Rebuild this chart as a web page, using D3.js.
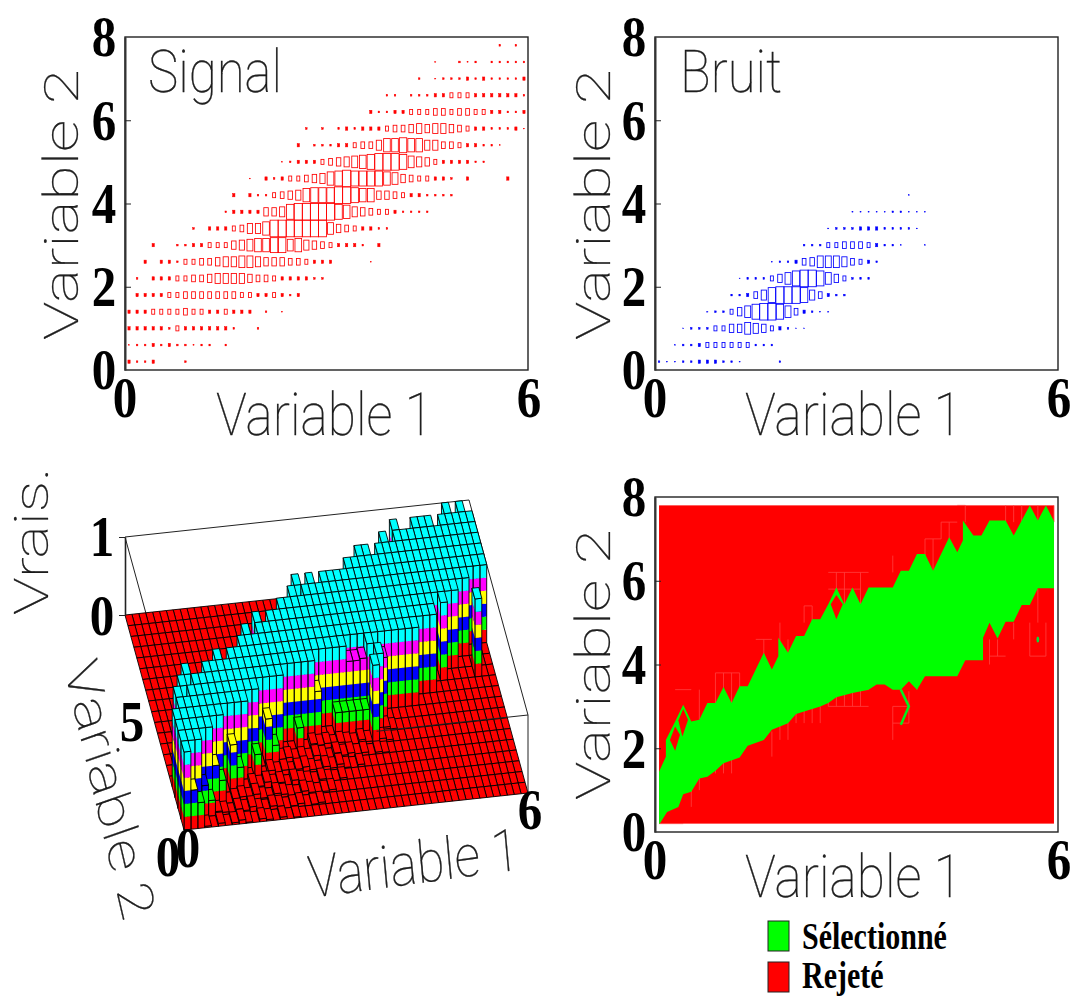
<!DOCTYPE html>
<html><head><meta charset="utf-8">
<script src="https://cdn.jsdelivr.net/npm/d3@7"></script>
<style>html,body{margin:0;padding:0;background:#fff}svg{display:block}</style></head>
<body><svg id="c" width="1070" height="996"></svg>
<script>
// ---------- Data: box sizes (0-10) per row, row index = Variable 2 bin, first column = signalStart[r]
const varTwoTicks = [0,2,4,6,8];
const varOneTicks = [0,6];
const signalStart = [0,0,0,0,1,1,2,3,8,12,13,15,19,21,22,30,32,36,38,46];
const signalRows = [
 [2,1,1,2,0,0,0,1],
 [.5,1,1,2,1,2,1,1,.5,1,1,0,1],
 [2,2,2,2,2,1,3,2,2,2,2,2,2,1,0,0,1],
 [2,2,2,3,3,3,3,4,3,3,2,2,3,2,2,2,0,1,0,.5],
 [2,2,2,2,3,3,4,4,4,4,4,4,4,3,3,2,2,3,2,1,2],
 [1,0,2,2,2,3,3,4,4,5,6,6,6,6,5,4,4,3,2,2,2,2,1,1],
 [2,0,2,2,1,3,3,4,4,5,6,6,7,7,6,5,5,5,4,4,3,2,2,2,0,0,0,0,.5],
 [2,0,0,1,1,2,2,3,3,3,5,6,7,8,8,9,9,7,8,6,5,4,3,2,2,2,1,0,2],
 [1,0,2,2,2,3,4,6,6,8,10,10,10,10,10,10,10,7,5,4,3,2,2,1,1],
 [1,2,2,2,2,5,5,6,9,10,10,10,10,10,9,8,6,5,4,3,3,2,1,1,1,1],
 [2,0,2,1,1,3,4,5,6,8,9,9,9,10,10,9,8,8,5,5,4,3,2,2,1,1,1,1],
 [.5,0,2,1,2,3,3,4,5,6,8,9,10,9,9,9,9,8,7,5,4,3,3,2,2,1,0,2,0,0,0,0,2],
 [.5,1,2,2,2,3,4,5,6,7,8,9,10,10,10,9,7,6,5,3,2,2,2,2,1,1],
 [2,0,1,1,1,2,2,3,4,4,6,8,8,9,8,8,6,6,4,4,3,2,2,1,1,.5],
 [1,0,1,0,1,2,1,2,2,2,3,4,4,5,6,5,6,6,5,4,3,2,2,1,1,1,2,.5],
 [2,1,1,2,2,3,3,3,4,4,3,4,4,3,3,2,2,1,1,2],
 [1,1,0,1,1,1,2,2,3,3,3,2,2,2,2,2,2,1],
 [1,0,.5,1,1,1,2,1,2,1,1,1,1,2],
 [.5,0,0,1,.5,1,0,1,1,1,1,1],
 [1,0,1]
];
const noiseStart = [0,2,3,6,9,10,14,18,21,24,31];
const noiseRows = [
 [1,.5,.5,1,1,2,2,2,1,1,.5,0,0,0,0,1],
 [.5,1,1,2,3,3,3,3,3,3,1,1,1],
 [.5,1,1,1,3,3,5,5,7,6,5,3,2,1,.5,.5],
 [.5,1,1,3,5,7,9,10,10,9,7,4,2,1,.5,.5],
 [1,1,2,4,6,9,10,10,10,9,6,4,2,1,1],
 [.5,1,1,1,3,5,7,9,10,10,9,7,5,3,1,1,1],
 [.5,1,1,2,4,5,7,7,7,6,4,3,2,1],
 [1,1,1,3,3,4,4,4,3,2,1,1,.5,0,0,.5],
 [.5,1,1,1,2,2,2,1,1,1,1,.5],
 [.5,.5,.5,.5,.5,1,1,.5,.5,.5],
 [.5]
];
// Likelihood surface (bin indices): per-column first and last bin at full height
const surfaceBottom = [0,1,1,2,2,3,3,4,4,4,4,5,5,6,6,6,6,7,7,7,7,7,8,8,8,8,8,9,9,9,9,9,9,9,9,9,9,9,10,10,10,12,11,12,12,13,13,14,14,14];
const surfaceTop = [3,5,6,7,6,6,7,7,8,7,8,8,9,10,9,11,10,11,11,12,12,13,14,13,14,13,14,14,14,14,15,15,16,16,15,16,17,16,18,17,17,18,18,18,17,18,19,18,19,18];
const surfaceHoles = [[2,5],[3,6],[22,13]];
const surfaceIslands = [[30,8],[31,7],[30,6],[47,11]];
const surfacePartial = [[1,0,.5],[2,0,.33],[3,1,.4],[4,1,.2],[5,2,.5],[6,2,.3],[8,3,.6],[9,3,.3],[12,4,.3],[14,5,.6],[15,5,.25],[19,6,.3],[22,7,.6],[25,7,.3],[26,7,.3],[27,7,.3],[28,7,.3],[29,7,.3],[27,8,.8],[28,8,.8],[29,8,.82],[31,8,.6],[32,8,.8]];
const floorStart = [3,5,8,11,14,16,21,30];
const floorRows = [
 [3,0,6,0,4,8,2,0,6,3,0,5,0,2],
 [8,5,0,8,4,10,3,0,7,5,0,3,6,0,2,4],
 [6,10,5,12,3,0,9,6,2,0,8,4,0,3,5],
 [10,5,12,4,8,0,10,6,3,0,6,2,0,4,0],
 [12,6,10,3,9,12,5,0,8,4,10,2,0,5],
 [10,12,6,9,4,10,7,0,11,5,8,3,6,0,4,2],
 [12,8,10,4,9,6,3,10,5,0,8,4],
 [10,6,8,3]
];
const bandColors = ["#ff0000","#00ff00","#0000ff","#ffff00","#ff00ff","#00ffff"];
// Selection contour, vertices in bin units
const selectedOutline = [[0,0],[0,3.1],[.85,4],[.85,5],[2,6.1],[3,7.1],[4,6.1],[5,6.2],[6,7.2],[7,7.2],[8,8.15],[9,7.2],[10,8.2],[11,8.2],[13,10.2],[14,9.2],[14.8,10],[14.8,11.1],[16,10.2],[17,11.2],[18,11.2],[19,12.2],[20,12.2],[21,13.1],[22,14.1],[23,13.1],[24,14.1],[25,13.1],[26,14.1],[29,14.1],[30,15.1],[31,15.1],[32,16.1],[33,16.1],[34,15.1],[36,17.1],[37,16.2],[37.7,16.9],[37.7,18.1],[39,17.2],[40,17.2],[41,18.1],[43,18.1],[44,17.2],[46,19],[47,18.1],[48,19],[49,18.05],[49,14.05],[47,14.05],[46,13.05],[45,13.05],[44,12.05],[43,12.05],[42,11.05],[41,12],[40.2,11.1],[40.2,9.75],[38,9.75],[37,8.8],[33,8.8],[32,8],[31,8.5],[30,8],[29,8],[28,8.3],[27,8.3],[26,8],[24,7.8],[22,7.55],[21,7.2],[20,7],[18,6.7],[17,6.55],[16,6],[14,5.6],[13,5],[11,4.65],[10,3.95],[8,3.6],[7,3.15],[6,2.8],[5,2.7],[4,1.9],[3,1.75],[2.4,1],[1,.7],[.08,0]];
const rejectedHoles = [
 [[1.35,5],[2,5.8],[2.6,5.3],[2,4.35]],
 [[2.4,6.15],[3,6.85],[3.6,6.2],[2.9,5.2]],
 [[21.3,13.1],[22,13.65],[22.8,13.1],[22,12.2]]
];
const tendril = [[30,8],[31,7],[30,5.9]];
const speck = [47,11];
const seamH = [[8,2,4],[9,7,10],[7,7,11],[11,12,14],[10,15,17],[13,18,19],[15,21,26],[14,21,25],[17,33,35],[18,35,37],[19,37,38],[8,21,26],[7,21,26],[7,29,31],[6,29,31],[3,4,6],[0,0,3],[10,41,43],[10,46,48]];
const seamV = [[5,6.2,8],[7,7,9],[8,7,9],[9,7,9],[10,7,9],[13,10,11],[15,10,12],[16,10,11],[18,12,13],[19,12,13],[22,13,15],[23,13,15],[25,13,15],[29,15,16],[33,15,17],[34,15,17],[35,17,18],[36,17,18],[38,18,19],[43,18,19],[44,18,19],[45,18,19],[47,18,19],[49,18,19],[21,7,8],[22,7,8],[23,7,8],[24,7,8],[25,7,8],[29,5,7],[31,6,7.9],[32,8,8.5],[17,6,7],[18,6,7],[19,6,7],[20,6,7],[14,4,5.5],[15,5,6],[16,5,6],[7,3,4],[8,3,4],[9,3,4],[4,2,3],[5,2,3],[4,1,2],[41,9.5,11],[42,10,11],[46,10,12],[48,10,12],[47,12,14],[44,11,12]];
const legendItems = ["Sélectionné","Rejeté"];
const legendColors = ["#00ff00","#ff0000"];

// ---------- Helpers
const svg = d3.select("#c");
const THIN = "Roboto, Lato, 'Open Sans', sans-serif";
function thin(text,x,y,angle,len){
  svg.append("text").attr("transform",`translate(${x},${y}) scale(1,1.22) rotate(${angle})`)
    .attr("font-family",THIN).attr("font-size",48).attr("font-weight",100)
    .attr("textLength",len).attr("lengthAdjust","spacingAndGlyphs")
    .attr("fill","#222").attr("stroke","#111").attr("stroke-width",.25).text(text);
}
function digit(text,cx,cy){
  svg.append("text").attr("transform",`translate(${cx},${cy}) scale(1,1.18)`)
    .attr("font-family","'Liberation Serif',serif").attr("font-weight","bold").attr("font-size",49)
    .attr("text-anchor","middle").attr("y",16.5).attr("fill","#000").text(text);
}
function frame(left,top,w,h){
  svg.append("rect").attr("x",left).attr("y",top).attr("width",w).attr("height",h)
    .attr("fill","none").attr("stroke","#222").attr("stroke-width",1.4);
  const y = d3.scaleLinear([0,8],[top+h,top]);
  svg.append("g").attr("transform",`translate(${left},0)`)
    .call(d3.axisLeft(y).tickValues([2,4,6]).tickSizeInner(-6).tickSizeOuter(0).tickFormat(""))
    .call(g=>g.select(".domain").attr("stroke","#333").attr("stroke-width",2))
    .call(g=>g.selectAll("line").attr("stroke","#222"));
  varTwoTicks.forEach(t=>digit(t,left-21,y(t)));
  const x = d3.scaleLinear([0,6],[left,left+w]);
  varOneTicks.forEach(t=>digit(t,x(t)+(t?1:0),top+h+28));
  return {x,y};
}
function boxes(starts,rows,left,top,color){
  const bx = d3.scaleLinear([-.5,49.5],[left,left+403]);
  const by = d3.scaleLinear([-.5,19.5],[top+333,top]);
  const w = d3.scaleLinear([0,10],[.8,8.1]), h = d3.scaleLinear([0,10],[0,16.6]);
  const cells = rows.flatMap((row,r)=>row.map((v,k)=>({i:starts[r]+k,r,v}))).filter(d=>d.v>0);
  svg.append("g").selectAll("rect").data(cells).join("rect")
    .attr("x",d=>bx(d.i)-w(d.v)/2).attr("y",d=>by(d.r)-h(d.v)/2)
    .attr("width",d=>w(d.v)).attr("height",d=>h(d.v))
    .attr("fill",d=>d.v<=2?color:"none").attr("stroke",color)
    .attr("stroke-width",d=>d.v<1?.3:(d.v<=2?.5:.85));
}

// ---------- Top panels
frame(125,37,403,333);
boxes(signalStart,signalRows,125,37,"#ff0000");
thin("Signal",148,92,0,134);
thin("Variable 1",216,435,0,217);
thin("Variable 2",78,340,-90,222);

frame(655,37,403,333);
boxes(noiseStart,noiseRows,655,37,"#0000ff");
thin("Bruit",680,92,0,102);
thin("Variable 1",745,435,0,217);
thin("Variable 2",610,340,-90,222);

// ---------- Lego surface
const zMatrix = d3.range(20).map(()=>new Array(50).fill(0));
floorRows.forEach((row,r)=>row.forEach((v,k)=>{zMatrix[r][floorStart[r]+k]=v/160;}));
surfacePartial.forEach(([i,r,z])=>{zMatrix[r][i]=z;});
surfaceTop.forEach((t,i)=>{for(let r=surfaceBottom[i];r<=t;r++)zMatrix[r][i]=1;});
surfaceHoles.forEach(([i,r])=>{zMatrix[r][i]=.05;});
surfaceIslands.forEach(([i,r])=>{zMatrix[r][i]=1;});
const pxI = d3.scaleLinear([0,50],[0,344]), pyI = d3.scaleLinear([0,50],[0,-37]);
const pxR = d3.scaleLinear([0,20],[0,-59]), pyR = d3.scaleLinear([0,20],[0,-215]);
const pyZ = d3.scaleLinear([0,1],[0,-78]);
const P = (i,r,z)=>[184+pxI(i)+pxR(r),830+pyI(i)+pyR(r)+pyZ(z)];
const S = pts=>pts.map(p=>p.join(",")).join(" ");
const gBox = svg.append("g").attr("fill","none").attr("stroke","#222");
[[[0,20,1],[50,20,1]],[[50,20,1],[50,0,1]],[[0,20,1],[0,0,1]]].forEach(([a,b])=>{
  gBox.append("line").attr("x1",P(...a)[0]).attr("y1",P(...a)[1]).attr("x2",P(...b)[0]).attr("y2",P(...b)[1]).attr("stroke-width",1);
});
const gS = svg.append("g");
function wall(a,b,h){
  for(let k=0;k<6 && k/6<h;k++){
    const z0=k/6,z1=Math.min((k+1)/6,h);
    gS.append("polygon").attr("points",S([P(...a,z0),P(...b,z0),P(...b,z1),P(...a,z1)])).attr("fill",bandColors[k]);
  }
  gS.append("polygon").attr("points",S([P(...a,0),P(...b,0),P(...b,h),P(...a,h)])).attr("fill","none").attr("stroke","#000").attr("stroke-width",.9);
}
for(let r=19;r>=0;r--)for(let i=49;i>=0;i--){
  const h=zMatrix[r][i];
  if(h>0){
    wall([i,r],[i+1,r],h);
    wall([i,r],[i,r+1],h);
  }
  gS.append("polygon").attr("points",S([P(i,r,h),P(i+1,r,h),P(i+1,r+1,h),P(i,r+1,h)]))
    .attr("fill",bandColors[Math.min(5,Math.floor(h*6))]).attr("stroke","#000").attr("stroke-width",.9);
}
const gF = svg.append("g").attr("stroke","#222");
[[[50,0,1],[50,0,0]],[[50,0,1],[28,0,1]]].forEach(([a,b])=>{
  gF.append("line").attr("x1",P(...a)[0]).attr("y1",P(...a)[1]).attr("x2",P(...b)[0]).attr("y2",P(...b)[1]).attr("stroke-width",1);
});
const zAxis = d3.scaleLinear([0,1],[P(0,20,0)[1],P(0,20,1)[1]]);
svg.append("g").attr("transform",`translate(${P(0,20,0)[0]},0)`)
  .call(d3.axisLeft(zAxis).tickValues([0,1]).tickSizeInner(6).tickSizeOuter(0).tickFormat(""))
  .call(g=>g.select(".domain").attr("stroke","#222").attr("stroke-width",1.6))
  .call(g=>g.selectAll("line").attr("stroke","#222"));
digit(1,102,537); digit(0,102,616); digit(5,132,722);
digit(0,168,857); digit(0,188,848); digit(6,530,810);
thin("Vrais.",48,615,-90,121);
thin("Variable 2",64,668,74,217);
thin("Variable 1",310,898,-6.4,212);

// ---------- Selection map
const BR = {left:655,top:497,w:403,h:335};
const qx = d3.scaleLinear([-.5,49.5],[BR.left,BR.left+BR.w]);
const qy = d3.scaleLinear([-.5,19.5],[BR.top+BR.h,BR.top]);
const gQ = svg.append("g");
gQ.append("rect").attr("x",qx(0)).attr("y",qy(19)).attr("width",qx(49)-qx(0)).attr("height",qy(0)-qy(19)).attr("fill","#ff0000");
seamH.forEach(([r,a,b])=>gQ.append("line").attr("x1",qx(a)).attr("x2",qx(b)).attr("y1",qy(r)).attr("y2",qy(r)).attr("stroke","#ff4040").attr("stroke-width",.8));
seamV.forEach(([i,a,b])=>gQ.append("line").attr("x1",qx(i)).attr("x2",qx(i)).attr("y1",qy(a)).attr("y2",qy(b)).attr("stroke","#ff4040").attr("stroke-width",.8));
const toPts = a=>a.map(([i,r])=>[qx(i),qy(r)].join(",")).join(" ");
gQ.append("polygon").attr("points",toPts(selectedOutline)).attr("fill","#00ff00");
rejectedHoles.forEach(h=>gQ.append("polygon").attr("points",toPts(h)).attr("fill","#ff0000"));
gQ.append("polyline").attr("points",toPts(tendril)).attr("fill","none").attr("stroke","#00f020").attr("stroke-width",2.5);
gQ.append("ellipse").attr("cx",qx(speck[0])).attr("cy",qy(speck[1])).attr("rx",1.4).attr("ry",3).attr("fill","#00e040");
frame(BR.left,BR.top,BR.w,BR.h);
thin("Variable 1",745,897,0,217);
thin("Variable 2",610,800,-90,222);

// ---------- Legend
const ly = d3.scalePoint(legendItems,[921,962]);
legendItems.forEach((t,k)=>{
  svg.append("rect").attr("x",768).attr("y",ly(t)).attr("width",21).attr("height",30).attr("fill",legendColors[k]).attr("stroke","#222").attr("stroke-width",1);
  svg.append("text").attr("transform",`translate(802,${ly(t)+(k?26:28)}) scale(1,1.25)`)
    .attr("font-family","'Liberation Serif',serif").attr("font-weight","bold").attr("font-size",30).attr("fill","#000").text(t);
});
</script></body></html>
